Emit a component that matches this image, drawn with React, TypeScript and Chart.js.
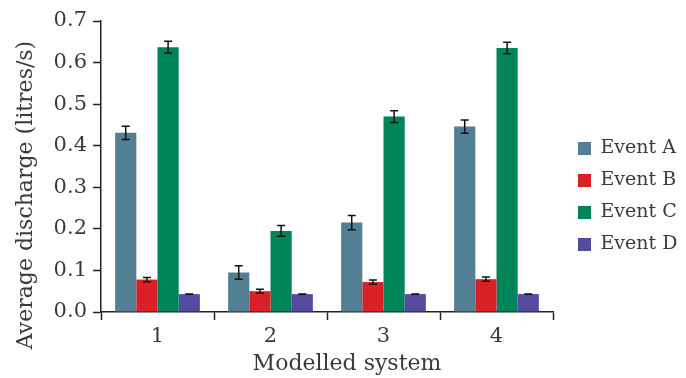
import React, { useEffect, useRef } from 'react';
import { Chart, registerables } from 'chart.js';

Chart.register(...registerables);

// ---- data ----
const categories = ['1', '2', '3', '4'];
const seriesNames = ['Event A', 'Event B', 'Event C', 'Event D'];
const eventA = [0.431, 0.095, 0.215, 0.446];
const eventAErr = [0.016, 0.016, 0.017, 0.016];
const eventB = [0.078, 0.05, 0.072, 0.079];
const eventBErr = [0.005, 0.005, 0.005, 0.005];
const eventC = [0.637, 0.195, 0.47, 0.635];
const eventCErr = [0.014, 0.013, 0.014, 0.014];
const eventD = [0.043, 0.043, 0.043, 0.043];
const eventDErr = [0.0005, 0.0005, 0.0005, 0.0005];
const yMin = 0;
const yMax = 0.7;
const yStep = 0.1;
const xTitle = 'Modelled system';
const yTitle = 'Average discharge (litres/s)';

const seriesValues = [eventA, eventB, eventC, eventD];
const seriesErrors = [eventAErr, eventBErr, eventCErr, eventDErr];
const seriesColors = ['#527f94', '#da1f26', '#00845a', '#534b9f'];

const FONT = "'DejaVu Serif', serif";
const TEXT = '#3a3a3a';
const AXIS = '#222222';

const errorBarPlugin = {
  id: 'errorBars',
  afterDatasetsDraw(chart: any) {
    const ctx = chart.ctx;
    const yScale = chart.scales.y;
    ctx.save();
    ctx.strokeStyle = '#111111';
    ctx.lineWidth = 1.5;
    chart.data.datasets.forEach((ds: any, di: number) => {
      const meta = chart.getDatasetMeta(di);
      if (meta.hidden) return;
      meta.data.forEach((bar: any, i: number) => {
        const v = ds.data[i];
        const e = ds.errors[i];
        const x = bar.x;
        const yTop = yScale.getPixelForValue(v + e);
        const yBot = yScale.getPixelForValue(v - e);
        const cap = 4;
        ctx.beginPath();
        ctx.moveTo(x, yTop);
        ctx.lineTo(x, yBot);
        ctx.moveTo(x - cap, yTop);
        ctx.lineTo(x + cap, yTop);
        ctx.moveTo(x - cap, yBot);
        ctx.lineTo(x + cap, yBot);
        ctx.stroke();
      });
    });
    ctx.restore();
  },
};

const axisTitlePlugin = {
  id: 'axisTitles',
  afterDraw(chart: any) {
    const ctx = chart.ctx;
    ctx.save();
    ctx.fillStyle = TEXT;
    ctx.font = `22px ${FONT}`;
    ctx.textAlign = 'center';
    ctx.textBaseline = 'alphabetic';
    ctx.fillText(xTitle, 347, 370);
    ctx.translate(32, 195);
    ctx.rotate(-Math.PI / 2);
    ctx.fillText(yTitle, 0, 0);
    ctx.restore();
  },
};

export default function App() {
  const ref = useRef<HTMLCanvasElement | null>(null);

  useEffect(() => {
    document.body.style.margin = '0';
    const canvas = ref.current;
    if (!canvas) return;
    const chart = new Chart(canvas, {
      type: 'bar',
      data: {
        labels: categories,
        datasets: seriesNames.map((name, i) => ({
          label: name,
          data: seriesValues[i],
          errors: seriesErrors[i],
          backgroundColor: seriesColors[i],
          borderWidth: 0,
          categoryPercentage: 0.75,
          barPercentage: 1.0,
        })) as any,
      },
      options: {
        responsive: false,
        animation: false,
        devicePixelRatio: 1,
        layout: { padding: { top: 21, right: 8, bottom: 6, left: 0 } },
        plugins: {
          title: { display: false },
          tooltip: { enabled: false },
          legend: {
            display: true,
            position: 'right',
            align: 'center',
            labels: {
              boxWidth: 13,
              boxHeight: 13,
              padding: 13,
              color: TEXT,
              font: { family: FONT, size: 19, lineHeight: 1.05 },
            },
          },
        },
        scales: {
          x: {
            afterFit(scale: any) {
              scale.height = 60;
            },
            grid: {
              display: true,
              offset: true,
              drawOnChartArea: false,
              drawTicks: true,
              tickLength: 8,
              tickWidth: 1.5,
              tickColor: AXIS,
            },
            border: { display: true, color: AXIS, width: 1.5 },
            ticks: {
              color: TEXT,
              padding: 4,
              font: { family: FONT, size: 21 },
            },
          },
          y: {
            min: yMin,
            max: yMax,
            afterFit(scale: any) {
              scale.width = 101;
            },
            grid: {
              display: true,
              drawOnChartArea: false,
              drawTicks: true,
              tickLength: 8,
              tickWidth: 1.5,
              tickColor: AXIS,
            },
            border: { display: true, color: AXIS, width: 1.5 },
            ticks: {
              stepSize: yStep,
              color: TEXT,
              padding: 6,
              font: { family: FONT, size: 21 },
              callback: (v: any) => Number(v).toFixed(1),
            },
          },
          gap: {
            type: 'linear',
            position: 'right',
            display: true,
            afterFit(scale: any) {
              scale.width = 12;
            },
            grid: { display: false, drawTicks: false },
            border: { display: false },
            ticks: { display: false },
          },
        },
      } as any,
      plugins: [errorBarPlugin, axisTitlePlugin],
    });
    return () => chart.destroy();
  }, []);

  return (
    <div style={{ position: 'relative', width: 686, height: 378 }}>
      <canvas ref={ref} width={686} height={378} style={{ display: 'block', width: 686, height: 378 }} />
    </div>
  );
}
